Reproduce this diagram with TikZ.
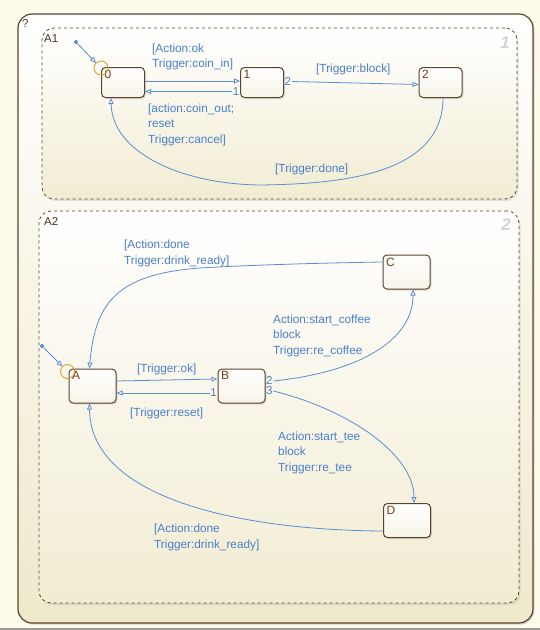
\documentclass[tikz,border=0pt]{standalone}
\usepackage{fontspec}
\setmainfont{Liberation Sans}
\usetikzlibrary{arrows.meta,calc,shadows}

\definecolor{bgcream}{HTML}{FDFBEA}
\definecolor{chartbrown}{HTML}{5A4430}
\definecolor{transblue}{HTML}{5B8ED0}
\definecolor{labelblue}{HTML}{4A80C8}
\definecolor{statetext}{HTML}{7A3A10}
\definecolor{regiontext}{HTML}{4A3520}
\definecolor{junction}{HTML}{E0A030}
\definecolor{regionnum}{HTML}{D4D4D4}
\definecolor{chartbottom}{HTML}{EFE9CB}
\definecolor{regionbottom}{HTML}{F2ECD2}
\definecolor{statebottom}{HTML}{F7F4E8}

\begin{document}
\begin{tikzpicture}[x=1pt,y=-1pt,
  chartbox/.style={draw=chartbrown, line width=1.2pt, rounded corners=14pt,
    top color=white, bottom color=chartbottom, inner sep=0pt,
    drop shadow={shadow xshift=1.5pt, shadow yshift=-1.5pt, opacity=0.3}},
  regionbox/.style={draw=chartbrown, line width=0.8pt, dashed, rounded corners=12pt,
    top color=white, bottom color=regionbottom, inner sep=0pt,
    drop shadow={shadow xshift=1.5pt, shadow yshift=-2pt, opacity=0.2}},
  chartstate/.style={draw=chartbrown, line width=1pt, rounded corners=4pt,
    inner sep=0pt, top color=white, bottom color=statebottom,
    drop shadow={shadow xshift=1.5pt, shadow yshift=-1.5pt, opacity=0.25}},
  smallstate/.style={chartstate, minimum width=43pt, minimum height=30pt},
  bigstate/.style={chartstate, minimum width=47pt, minimum height=34pt},
  statename/.style={text=statetext, font=\fontsize{12}{14}\selectfont, inner sep=0pt, anchor=north west},
  regionlbl/.style={text=regiontext, font=\fontsize{11.5}{14}\selectfont, inner sep=0pt, anchor=west},
  regionnumber/.style={text=regionnum, font=\fontsize{17}{20}\selectfont\bfseries\itshape, inner sep=0pt},
  trans/.style={draw=transblue, line width=0.8pt, -{Triangle[open, length=6pt, width=5pt]}},
  % base west of a multi-line label is the baseline of its last line
  lbl/.style={text=labelblue, font=\fontsize{11.8}{15.2}\selectfont, align=left, inner sep=0pt, anchor=base west},
  numlbl/.style={text=labelblue, font=\fontsize{11.5}{14}\selectfont, inner sep=0.5pt,
    text height=7pt, text depth=0pt},
  junctionring/.style={draw=junction, line width=0.9pt},
  defaultdot/.style={fill=transblue, inner sep=0pt, minimum size=4pt, circle}
]
\useasboundingbox (0,0) rectangle (540,630);
\fill[bgcream] (0,0) rectangle (540,630);
\fill[gray!80] (0,627.5) rectangle (540,630);

% chart and its two parallel regions
\node[chartbox, minimum width=515pt, minimum height=609pt] (chart) at (275.5,318.5) {};
\node[regionlbl] (chartq) at (22,23) {?};

\node[regionbox, minimum width=475pt, minimum height=171pt] (A1) at (279.5,113.5) {};
\node[regionlbl] (tA1) at (44,39) {A1};
\node[regionnumber] (nA1) at (505,43) {1};

\node[regionbox, minimum width=480pt, minimum height=392pt] (A2) at (279,407) {};
\node[regionlbl] (tA2) at (44,221) {A2};
\node[regionnumber] (nA2) at (506,225) {2};

% ---------------- region A1 ----------------
\node[smallstate] (s0) at (123,82.5) {};
\node[smallstate] (s1) at (262,82.5) {};
\node[smallstate] (s2) at (440.5,82.5) {};
\node[statename] (s0n) at ($(s0.north west)+(3.5,3)$) {0};
\node[statename] (s1n) at ($(s1.north west)+(3.5,3)$) {1};
\node[statename] (s2n) at ($(s2.north west)+(3.5,3)$) {2};

% default transition
\node[defaultdot] (d1) at (76,42) {};
\draw[junctionring] (s0.north west) ++(0,1) circle (7pt);
\draw[trans] (d1) -- ($(s0.north west)+(-5,-4)$);

% 0 -> 1
\draw[trans] ($(s0.east)+(0,-1.5)$) -- ($(s1.west)+(0,-1.5)$);
\node[lbl] (l01) at (152,67.5) {[Action:ok\\Trigger:coin\_in]};

% 1 -> 0
\node[numlbl, anchor=east] (p10) at ($(s1.west)+(0,9)$) {1};
\draw[trans] (p10.west) -- ($(s0.east)+(0,9)$);
\node[lbl] (l10) at (148,143) {[action:coin\_out;\\reset\\Trigger:cancel]};

% 1 -> 2
\node[numlbl, anchor=west] (p12) at ($(s1.east)+(0,-1)$) {2};
\draw[trans] (p12.east) -- ($(s2.west)+(0,2)$);
\node[lbl] (l12) at (316,72) {[Trigger:block]};

% 2 -> 0
\coordinate (w20) at (260,185);
\draw[trans] ($(s2.south)+(2.5,0)$) .. controls (443,175) and (340,184) .. (w20)
  .. controls (180,184) and (112,152) .. ($(s0.south west)+(10,0)$);
\node[lbl] (l20) at (275,172) {[Trigger:done]};

% ---------------- region A2 ----------------
\node[bigstate] (sA) at (92.5,386) {};
\node[bigstate] (sB) at (241.5,386) {};
\node[bigstate] (sC) at (406.5,272) {};
\node[bigstate] (sD) at (407,520.5) {};
\node[statename] (sAn) at ($(sA.north west)+(3.5,3)$) {A};
\node[statename] (sBn) at ($(sB.north west)+(3.5,3)$) {B};
\node[statename] (sCn) at ($(sC.north west)+(3.5,3)$) {C};
\node[statename] (sDn) at ($(sD.north west)+(3.5,3)$) {D};

% default transition
\node[defaultdot] (d2) at (42,346) {};
\draw[junctionring] (sA.north west) ++(-1,3) circle (7pt);
\draw[trans] (d2) -- ($(sA.north west)+(-6,-2)$);

% A -> B
\draw[trans] ($(sA.east)+(0,-5)$) -- ($(sB.west)+(0,-7)$);
\node[lbl] (lAB) at (137,372) {[Trigger:ok]};

% B -> A
\node[numlbl, anchor=east] (pBA) at ($(sB.west)+(0,7)$) {1};
\draw[trans] (pBA.west) -- ($(sA.east)+(0,7)$);
\node[lbl] (lBA) at (130,416) {[Trigger:reset]};

% B -> C
\node[numlbl, anchor=west] (pBC) at ($(sB.east)+(0,-5)$) {2};
\draw[trans] (pBC.east) .. controls (360,372) and (413,340) .. ($(sC.south)+(6.5,0)$);
\node[lbl] (lBC) at (273,354) {Action:start\_coffee\\block\\Trigger:re\_coffee};

% B -> D
\node[numlbl, anchor=west] (pBD) at ($(sB.east)+(0,5)$) {3};
\draw[trans] (pBD.east) .. controls (350,410) and (414,455) .. ($(sD.north)+(7,0)$);
\node[lbl] (lBD) at (278,471) {Action:start\_tee\\block\\Trigger:re\_tee};

% C -> A
\coordinate (wCA) at (200,268);
\draw[trans] ($(sC.west)+(0,-10)$) .. controls (320,263) and (250,265) .. (wCA)
  .. controls (120,274) and (95,300) .. ($(sA.north west)+(21,0)$);
\node[lbl] (lCA) at (124,264) {[Action:done\\Trigger:drink\_ready]};

% D -> A
\draw[trans] ($(sD.west)+(0,10.5)$) .. controls (230,530) and (90,495) .. ($(sA.south west)+(21,0)$);
\node[lbl] (lDA) at (154,548) {[Action:done\\Trigger:drink\_ready]};
\end{tikzpicture}
\end{document}
